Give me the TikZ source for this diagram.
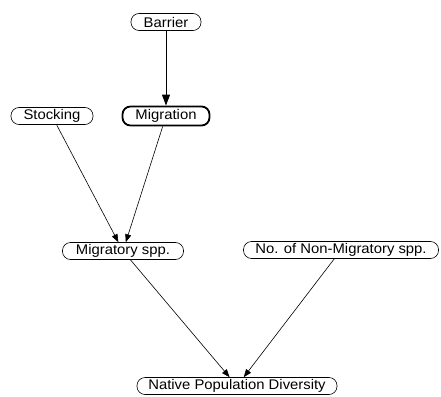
\documentclass[tikz,border=0pt]{standalone}
\usepackage{fontspec}
\setmainfont[FakeStretch=1.06]{Liberation Sans}
\usetikzlibrary{arrows.meta}
\begin{document}
\begin{tikzpicture}[x=1pt,y=-1pt,
  var/.style={draw=black, fill=white, line width=0.6pt, rounded corners=8pt,
    minimum height=17pt, inner sep=0pt, font=\fontsize{14}{15}\selectfont},
  focus/.style={var, line width=1.8pt, minimum height=19pt},
  link/.style={line width=0.6pt, -{Triangle[length=8pt,width=6pt]}},
  biglink/.style={line width=0.9pt, -{Triangle[length=11pt,width=8pt]}}]
\useasboundingbox (0,0) rectangle (441,396);
\fill[white] (0,0) rectangle (441,396);
\node[var, minimum width=70pt] (barrier) at (166,22) {Barrier};
\node[focus, minimum width=87pt] (migration) at (166,116) {Migration};
\node[var, minimum width=82pt] (stocking) at (52,116) {Stocking};
\node[var, minimum width=121pt] (migspp) at (123,251) {Migratory spp.};
\node[var, minimum width=195pt] (nonmig) at (341,250) {No. of Non-Migratory spp.};
\node[var, minimum width=200pt] (native) at (237,386) {Native Population Diversity};
\draw[biglink] (barrier) -- (migration);
\draw[link] (stocking) -- (migspp);
\draw[link] (migration) -- (migspp);
\draw[link] (migspp) -- (native);
\draw[link] (nonmig) -- (native);
\end{tikzpicture}
\end{document}
